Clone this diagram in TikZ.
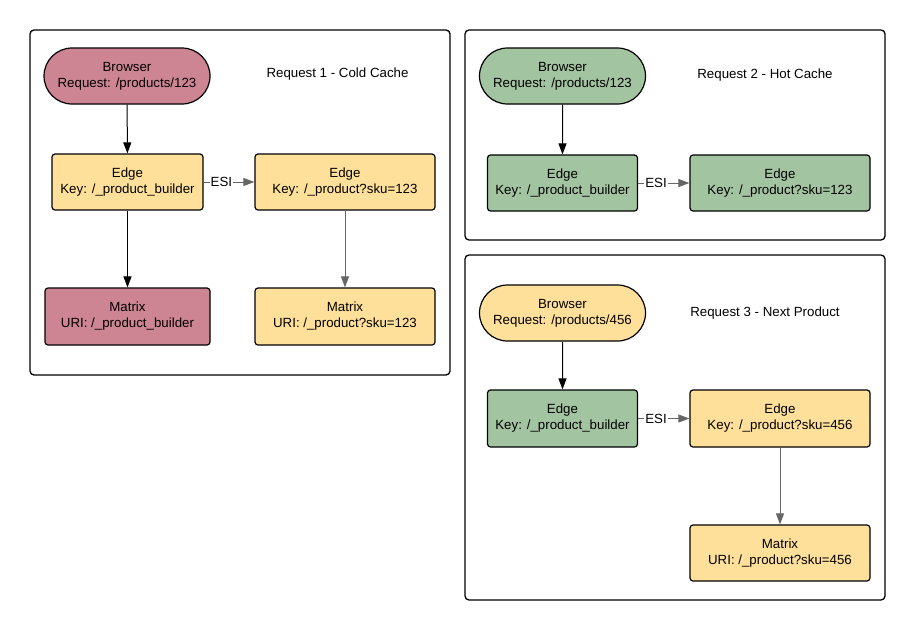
\documentclass[tikz,border=0pt]{standalone}
\usepackage{fontspec}
\setmainfont{Liberation Sans}
\usetikzlibrary{arrows.meta,shapes.misc}
\definecolor{redc}{HTML}{CE8593}
\definecolor{yelc}{HTML}{FEE09A}
\definecolor{grnc}{HTML}{A3C4A1}
\definecolor{grayarr}{HTML}{666666}
\tikzset{
  panel/.style={draw=black, line width=1.3pt, rounded corners=4pt},
  box/.style={draw=black, line width=1.2pt, rounded corners=3pt, align=center,
    inner sep=0pt, font=\fontsize{13.3}{16}\selectfont},
  pill/.style={draw=black, line width=1.2pt, rounded rectangle, align=center,
    inner sep=0pt, font=\fontsize{13.3}{16}\selectfont},
  ttl/.style={font=\fontsize{13.3}{16}\selectfont},
  barrow/.style={draw=black, line width=1pt, -{Triangle[width=8pt,length=11pt]}},
  garrow/.style={draw=grayarr, line width=1pt, -{Triangle[width=8pt,length=11pt]}},
  esi/.style={fill=white, inner sep=1pt, text=black, font=\fontsize{13.3}{16}\selectfont},
}
\begin{document}
\begin{tikzpicture}[x=1pt,y=-1pt]
\useasboundingbox (0,0) rectangle (915,630);
% panels
\draw[panel] (30,30) rectangle (450,375);
\draw[panel] (465,30) rectangle (885,240);
\draw[panel] (465,255) rectangle (885,600);

% Panel 1
\node[pill, fill=redc, minimum width=166pt, minimum height=56pt] (b1) at (127,76) {Browser\\Request: /products/123};
\node[ttl] (t1) at (337.5,74) {Request 1 - Cold Cache};
\node[box, fill=yelc, minimum width=151pt, minimum height=56pt] (e1a) at (127.5,182) {Edge\\Key: /\_product\_builder};
\node[box, fill=yelc, minimum width=180pt, minimum height=56pt] (e1b) at (345,182) {Edge\\Key: /\_product?sku=123};
\node[box, fill=redc, minimum width=165pt, minimum height=57pt] (m1a) at (127.5,316.5) {Matrix\\URI: /\_product\_builder};
\node[box, fill=yelc, minimum width=180pt, minimum height=57pt] (m1b) at (345,316.5) {Matrix\\URI: /\_product?sku=123};
\draw[barrow] (b1) -- (e1a);
\draw[barrow] (e1a) -- (m1a);
\draw[garrow] (e1a) -- node[esi, pos=0.35] {ESI} (e1b);
\draw[garrow] (e1b) -- (m1b);

% Panel 2
\node[pill, fill=grnc, minimum width=166pt, minimum height=56pt] (b2) at (562.5,76) {Browser\\Request: /products/123};
\node[ttl] (t2) at (765,75) {Request 2 - Hot Cache};
\node[box, fill=grnc, minimum width=150pt, minimum height=56pt] (e2a) at (562.5,183) {Edge\\Key: /\_product\_builder};
\node[box, fill=grnc, minimum width=180pt, minimum height=56pt] (e2b) at (780,183) {Edge\\Key: /\_product?sku=123};
\draw[barrow] (b2) -- (e2a);
\draw[garrow] (e2a) -- node[esi, pos=0.35] {ESI} (e2b);

% Panel 3
\node[pill, fill=yelc, minimum width=166pt, minimum height=56pt] (b3) at (562.5,313) {Browser\\Request: /products/456};
\node[ttl] (t3) at (765,313) {Request 3 - Next Product};
\node[box, fill=grnc, minimum width=150pt, minimum height=57pt] (e3a) at (562.5,418.5) {Edge\\Key: /\_product\_builder};
\node[box, fill=yelc, minimum width=180pt, minimum height=57pt] (e3b) at (780,418.5) {Edge\\Key: /\_product?sku=456};
\node[box, fill=yelc, minimum width=180pt, minimum height=56pt] (m3b) at (780,553) {Matrix\\URI: /\_product?sku=456};
\draw[barrow] (b3) -- (e3a);
\draw[garrow] (e3a) -- node[esi, pos=0.35] {ESI} (e3b);
\draw[garrow] (e3b) -- (m3b);
\end{tikzpicture}
\end{document}
